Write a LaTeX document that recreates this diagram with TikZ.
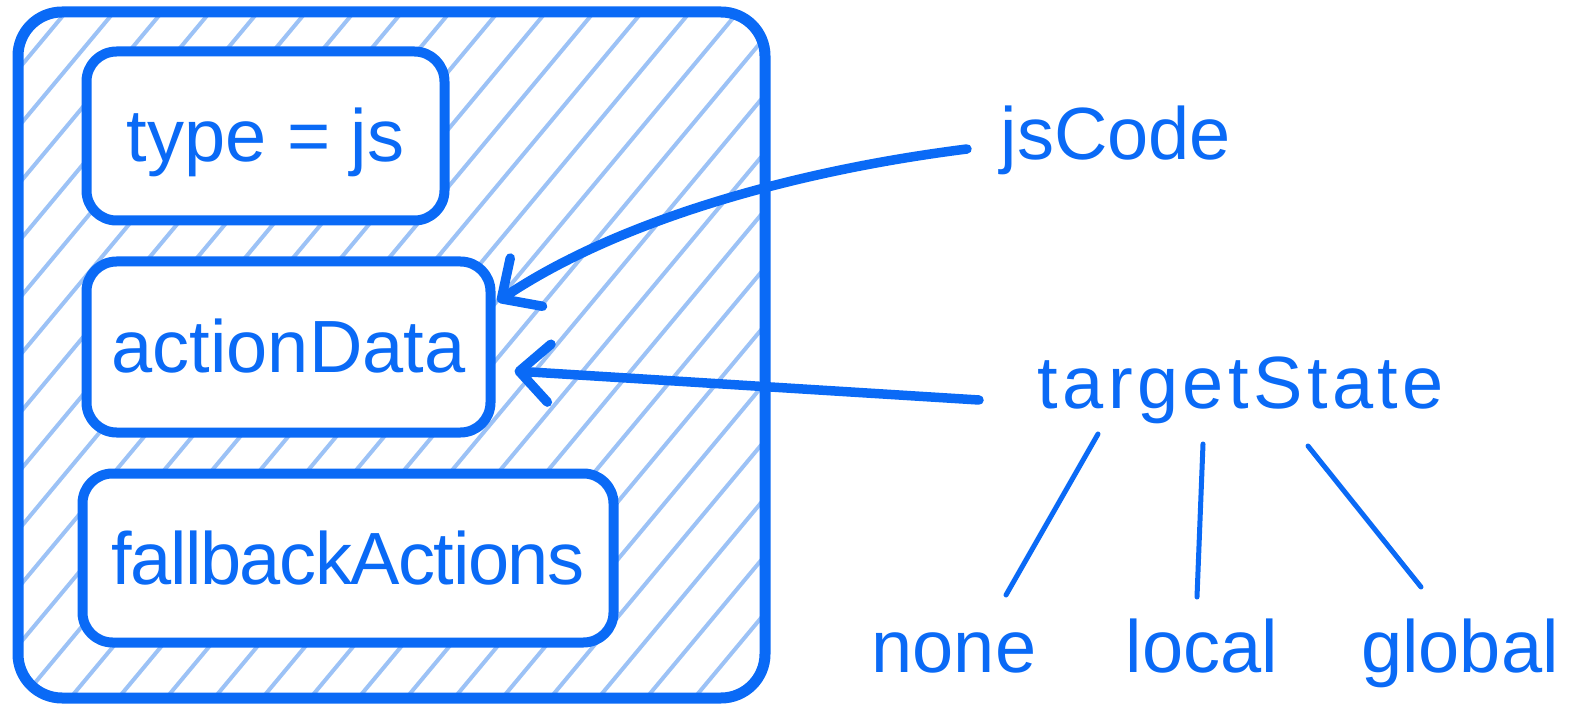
\documentclass[tikz,border=0pt]{standalone}
\usepackage{fontspec}
\setmainfont{Liberation Sans}
\usetikzlibrary{arrows.meta,calc,backgrounds}
\definecolor{inkblue}{RGB}{10,106,246}
\definecolor{hatchblue}{RGB}{156,194,246}
\newcommand{\diagfont}{\fontsize{74}{80}\selectfont}
\begin{document}
\begin{tikzpicture}[x=1pt,y=-1pt,
    frame/.style={draw=inkblue, line width=11pt, rounded corners=44pt, minimum width=747pt, minimum height=686pt, outer sep=0pt},
    field/.style={draw=inkblue, line width=10pt, rounded corners=30pt, fill=white, inner sep=0pt, text=inkblue, font=\diagfont, text height=52pt, text depth=0pt, minimum height=169pt},
    word/.style={text=inkblue, font=\diagfont, inner sep=0pt, anchor=base},
    pointer/.style={inkblue, line width=9.5pt, line cap=round, -{Straight Barb[length=30pt,width=58pt,round]}},
    branch/.style={inkblue, line width=5pt, line cap=round},
    hatch/.style={hatchblue, line width=4pt}]
    \useasboundingbox (0,0) rectangle (1582,708);
    \node[frame] (frame) at (391.5,355) {};
    \begin{scope}[on background layer]
        \clip[rounded corners=44pt] (frame.north west) rectangle (frame.south east);
        \foreach \x in {-620,-572,...,800}
            \draw[hatch] (\x,720) -- ++(600,-720);
    \end{scope}
    \node[field, minimum width=358pt] (typebox) at (265.5,136) {type = js};
    \node[field, minimum width=404pt, minimum height=171pt] (databox) at (288.5,347) {actionData};
    \node[field, minimum width=531pt, font=\diagfont\addfontfeature{LetterSpace=-2}] (fallbackbox) at (348,558) {fallbackActions};
    \node[word] (jscode) at (1116,160) {jsCode};
    \node[word, font=\diagfont\addfontfeature{LetterSpace=6}] (tstate) at (1241,409) {targetState};
    \node[word] (none) at (954,672) {none};
    \node[word] (local) at (1202,672) {local};
    \node[word] (global) at (1460,672) {global};
    \draw[pointer] ($(jscode.base)+(-149,-11)$) .. controls +(-167,21) and +(124,-83) .. ($(databox.north east)+(2,45)$);
    \draw[pointer] ($(tstate.base)+(-262,-9)$) -- ($(databox.east)+(19,24)$);
    \draw[branch] ($(tstate.base)+(-143,25)$) -- ($(none.base)+(52,-77)$);
    \draw[branch] ($(tstate.base)+(-38,35)$) -- ($(local.base)+(-5,-75)$);
    \draw[branch] ($(tstate.base)+(67,37)$) -- ($(global.base)+(-39,-85)$);
\end{tikzpicture}
\end{document}
